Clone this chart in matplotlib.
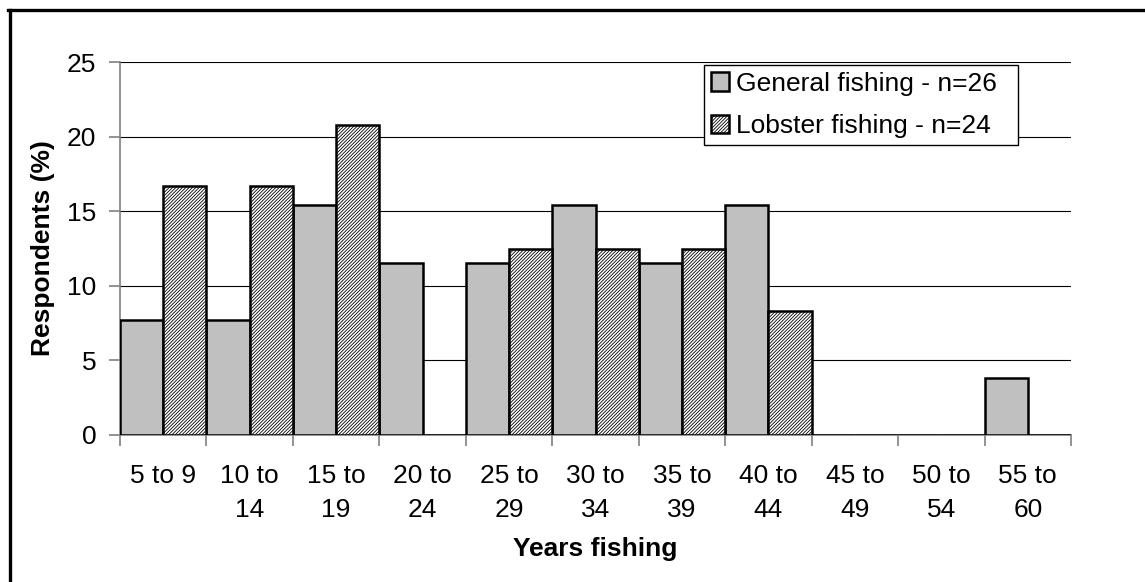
import numpy as np
import matplotlib.pyplot as plt
from matplotlib.lines import Line2D

plt.rcParams['font.family'] = ['Liberation Sans', 'DejaVu Sans']
plt.rcParams['hatch.color'] = 'black'
plt.rcParams['hatch.linewidth'] = 0.6

categories = ["5 to 9", "10 to\n14", "15 to\n19", "20 to\n24", "25 to\n29", "30 to\n34",
              "35 to\n39", "40 to\n44", "45 to\n49", "50 to\n54", "55 to\n60"]
general = [7.7, 7.7, 15.4, 11.5, 11.5, 15.4, 11.5, 15.4, 0, 0, 3.8]
lobster = [16.7, 16.7, 20.8, 0, 12.5, 12.5, 12.5, 8.3, 0, 0, 0]
labels = ["General fishing - n=26", "Lobster fishing - n=24"]

FS = 19

fig = plt.figure(figsize=(11.45, 5.82), dpi=100)
ax = fig.add_axes([120 / 1145, 1 - 435 / 582, 951 / 1145, 373 / 582])

x = np.arange(len(categories))
w = 0.5
ax.bar(x - w / 2, general, w, color='#c0c0c0', edgecolor='black', linewidth=1.8,
       label=labels[0], zorder=3)
ax.bar(x + w / 2, lobster, w, color='white', edgecolor='black', linewidth=1.8,
       hatch='/' * 10, label=labels[1], zorder=3)

ax.set_xlim(-0.5, len(categories) - 0.5)
ax.set_ylim(0, 25)
ax.set_yticks(range(0, 26, 5))
ax.yaxis.grid(True, color='black', linewidth=0.8, zorder=0)

ax.set_xticks(x)
ax.set_xticklabels(categories, fontsize=FS, linespacing=1.5)
ax.set_xticks(np.arange(len(categories) + 1) - 0.5, minor=True)
ax.tick_params(axis='x', which='major', length=0, pad=21)
ax.tick_params(axis='x', which='minor', length=8, color='#808080', width=1.2)
ax.tick_params(axis='y', labelsize=FS, length=8, color='#808080', width=1.2, pad=9)

for s in ['top', 'right']:
    ax.spines[s].set_visible(False)
for s in ['left', 'bottom']:
    ax.spines[s].set_color('#808080')
    ax.spines[s].set_linewidth(1.2)

ax.set_ylabel("Respondents (%)", fontsize=FS, fontweight='bold', labelpad=9)
ax.set_xlabel("Years fishing", fontsize=FS, fontweight='bold', labelpad=11)

leg = ax.legend(loc='upper left', bbox_to_anchor=(0.614, 0.78, 0.33, 0.212),
                mode='expand', fontsize=FS,
                frameon=True, fancybox=False, edgecolor='black', framealpha=1,
                handlelength=0.7, handleheight=0.7, handletextpad=0.25,
                borderpad=0.25, labelspacing=0.7, borderaxespad=0)
leg.get_frame().set_linewidth(1.0)

# chart border, only the left and top edges fall inside the image
fig.add_artist(Line2D([9.5 / 1145, 9.5 / 1145], [0, 1 - 9.5 / 582],
                      transform=fig.transFigure, color='black', linewidth=2.4))
fig.add_artist(Line2D([8.3 / 1145, 1], [1 - 9.5 / 582, 1 - 9.5 / 582],
                      transform=fig.transFigure, color='black', linewidth=2.4))

fig.savefig("out.png", dpi=100)
